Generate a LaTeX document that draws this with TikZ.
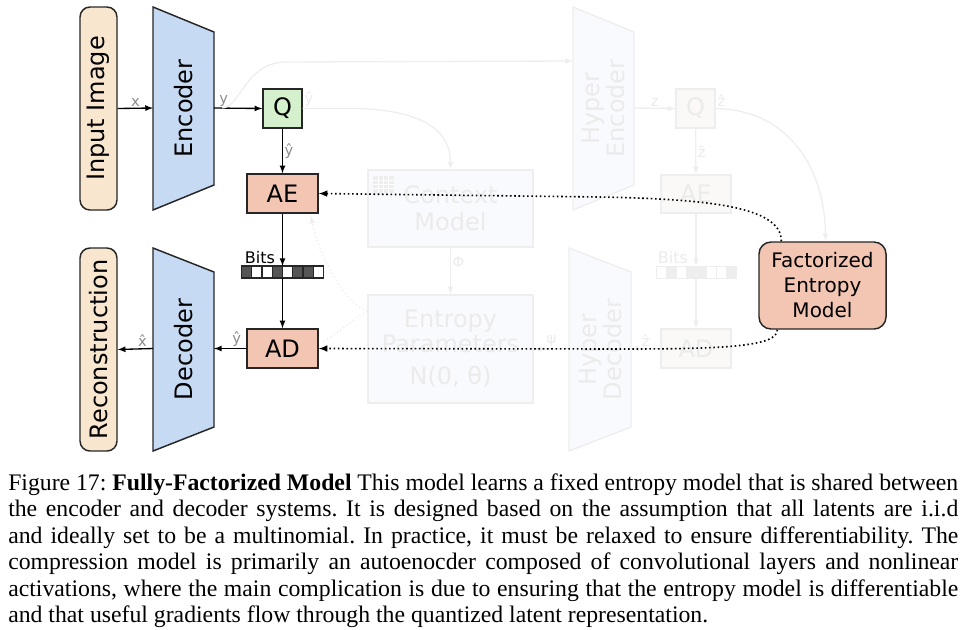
\documentclass[tikz,border=0pt]{standalone}
\usepackage{fontspec}
\setmainfont{DejaVu Sans}
\newfontfamily\capserif{Liberation Serif}
\usepackage{tikz}
\usetikzlibrary{calc,arrows}

\definecolor{beige}{HTML}{F9E6CF}
\definecolor{encblue}{HTML}{C6DAF4}
\definecolor{qgreen}{HTML}{D4F0CD}
\definecolor{salmon}{HTML}{F3C6B4}
\definecolor{bitdark}{HTML}{555555}
\definecolor{fadeline}{HTML}{EEEEEE}
\definecolor{fadefill}{HTML}{F9FAFD}
\definecolor{fadewarm}{HTML}{FBF9F7}
\definecolor{fadetext}{HTML}{EBEBEB}

\begin{document}
\begin{tikzpicture}[x=0.75pt,y=-0.75pt,
	box/.style={draw=black!85,line width=1.1pt,font=\fontsize{18}{22}\selectfont,inner sep=0pt},
	lbl/.style={text=black!45,font=\fontsize{11}{13}\selectfont,inner sep=1pt},
	flow/.style={-latex,line width=1pt},
	dotflow/.style={-latex,dotted,line width=1.2pt},
	fade/.style={draw=fadeline,fill=fadefill,line width=1pt,text=fadetext,font=\fontsize{18}{22}\selectfont,inner sep=0pt},
	fadeflow/.style={-latex,draw=fadeline,line width=1pt},
	fadelbl/.style={text=fadetext,font=\fontsize{11}{13}\selectfont,inner sep=1pt}]
	\useasboundingbox (0,0) rectangle (969,629);
	
	%encoder side
	\node[box,fill=beige,rounded corners=7.5pt,rotate=90,minimum width=152.25pt,minimum height=27.75pt] (inimg) at (98.5,108.5) {Input Image};
	\draw[box,fill=encblue] (153,7) -- (214,32) -- (214,185) -- (153,210) -- cycle;
	\node[rotate=90,font=\fontsize{18}{22}\selectfont] (enc) at (183.5,108.5) {Encoder};
	\coordinate (enc-w) at (153,108);
	\coordinate (enc-e) at (214,108);
	\node[box,fill=qgreen,minimum size=29.25pt] (q) at (282.5,108.5) {Q};
	\node[box,fill=salmon,minimum width=53.25pt,minimum height=29.25pt] (ae) at (282.5,193.5) {AE};
	
	\draw[flow] (inimg.south) -- (enc-w) node[lbl,midway,above] {x};
	\draw[flow] (enc-e) -- (q.west) node[lbl,pos=0.2,above] {y};
	\draw[flow] (q) -- (ae) node[lbl,midway,right] {ŷ};
	
	%bits
	\foreach \c [count=\i from 0] in {bitdark,white,white,bitdark,white,bitdark,bitdark,white}
		\draw[fill=\c,draw=black!85,line width=0.8pt] ({241.5+\i*10.25},266) rectangle +(10.25,12);
	\coordinate (bits-n) at (282.5,266);
	\coordinate (bits-s) at (282.5,278);
	\node[font=\fontsize{12}{14}\selectfont,anchor=base] (bits) at (260,263) {Bits};
	\draw[flow] (ae) -- (bits-n);
	
	%decoder side
	\node[box,fill=salmon,minimum width=53.25pt,minimum height=29.25pt] (ad) at (282.5,348.5) {AD};
	\draw[box,fill=encblue] (153,248) -- (214,272) -- (214,427) -- (153,451) -- cycle;
	\node[rotate=90,font=\fontsize{18}{22}\selectfont] (dec) at (183.5,349.5) {Decoder};
	\coordinate (dec-w) at (153,348.5);
	\coordinate (dec-e) at (214,348.5);
	\node[box,fill=beige,rounded corners=7.5pt,rotate=90,minimum width=152.25pt,minimum height=27.75pt] (recon) at (98.5,349.5) {Reconstruction};
	
	\draw[flow] (bits-s) -- (ad);
	\draw[flow] (ad.west) -- (dec-e) node[lbl,pos=0.3,above] {ŷ};
	\draw[flow] (dec-w) -- (recon.south) node[lbl,pos=0.3,above] {\^{x}};
	
	%entropy model
	\node[box,fill=salmon,rounded corners=9pt,minimum width=95.25pt,minimum height=65.25pt,align=center,font=\fontsize{15}{18.75}\selectfont] (fem) at (822.5,285.5) {Factorized\\Entropy\\Model};
	
	%faded hyperprior part
	\draw[fade] (573,7) -- (634,32) -- (634,185) -- (573,210) -- cycle;
	\node[rotate=90,text=fadetext,align=center,font=\fontsize{18}{18.75}\selectfont] (hypenc) at (603.5,108.5) {Hyper\\Encoder};
	\coordinate (hypenc-w) at (573,61);
	\coordinate (hypenc-e) at (634,108);
	\draw[fade] (569,248) -- (631,272) -- (631,427) -- (569,451) -- cycle;
	\node[rotate=90,text=fadetext,align=center,font=\fontsize{18}{18.75}\selectfont] (hypdec) at (600,349.5) {Hyper\\Decoder};
	\coordinate (hypdec-w) at (569,348.5);
	\coordinate (hypdec-e) at (631,348.5);
	
	\node[fade,minimum width=123.75pt,minimum height=57.75pt,align=center,font=\fontsize{18}{20}\selectfont] (cm) at (450.5,208.5) {Context\\Model};
	\fill[fadeline] (373,176) rectangle (394,193);
	\foreach \k in {1,2,3}{
		\draw[white,line width=0.6pt] ({373+\k*5.25},176) -- +(0,17);
		\draw[white,line width=0.6pt] (373,{176+\k*4.25}) -- +(21,0);
	}
	\node[fade,minimum width=123.75pt,minimum height=81pt,align=center,font=\fontsize{18}{18.75}\selectfont] (ep) at (450.5,349) {Entropy\\Parameters\\[5pt]N(0, θ)};
	
	\node[fade,fill=fadewarm,minimum size=29.25pt] (q2) at (695.5,108.5) {Q};
	\node[fade,fill=fadewarm,minimum width=52.5pt,minimum height=28.5pt] (ae2) at (696,194) {AE};
	\node[fade,fill=fadewarm,minimum width=52.5pt,minimum height=29.25pt] (ad2) at (696,348.5) {AD};
	\foreach \c [count=\i from 0] in {white,fadeline,white,fadeline,fadeline,white,white,fadeline}
		\draw[fill=\c,draw=fadeline,line width=0.6pt] ({656+\i*10},266) rectangle +(10,12);
	\coordinate (bits2-n) at (696,266);
	\coordinate (bits2-s) at (696,278);
	\node[text=fadetext,font=\fontsize{12}{14}\selectfont,anchor=base] (bits2) at (673,263) {Bits};
	
	\draw[fadeflow] ($(enc-e)+(8,0)$) .. controls (240,108) and (245,63) .. (285,62) -- (hypenc-w);
	\draw[fadeflow] (q.east) node[fadelbl,above right] {ŷ} -- (355,108.5) .. controls (430,110) and (450.5,135) .. (cm.north);
	\draw[fadeflow] (cm) -- (ep) node[fadelbl,pos=0.3,right] {Φ};
	\draw[fadeflow] (hypenc-e) -- (q2.west) node[fadelbl,midway,above] {z};
	\draw[fadeflow] (q2) -- (ae2) node[fadelbl,midway,right] {ẑ};
	\draw[fadeflow] (ae2) -- (bits2-n);
	\draw[fadeflow] (bits2-s) -- (ad2);
	\draw[fadeflow] (ad2.west) -- (hypdec-e) node[fadelbl,midway,above] {ẑ};
	\draw[fadeflow] (hypdec-w) -- (ep.east) node[fadelbl,midway,above] {ψ};
	\draw[fadeflow] (q2.east) node[fadelbl,above right] {ẑ} .. controls (790,110) and (825,170) .. ($(fem.north)+(3,0)$);
	\draw[fadeflow,dotted] ($(ep.north west)+(0,17)$) .. controls (340,300) and (318,250) .. ($(ae.south east)+(-8,2)$);
	\draw[fadeline,dotted,line width=1pt] ($(ep.north west)+(0,17)$) .. controls (350,320) and (338,335) .. ($(ad.east)+(2,-6)$);
	
	%entropy model links
	\draw[dotflow] ($(fem.north west)+(23,0)$) .. controls (782,205) and (700,199) .. (600,197) -- (ae.east);
	\draw[dotflow] ($(fem.south west)+(19,0)$) .. controls (778,347) and (720,349) .. (620,349) -- (ad.east);
	
	%caption
	\node[anchor=north west,inner sep=0pt,text width=712.5pt,align=justify,font=\capserif\fontsize{17.8}{19.8}\selectfont] (caption) at (8,473.5) {\noindent\frenchspacing Figure 17: \textbf{Fully-Factorized Model} This model learns a fixed entropy model that is shared between\linebreak the encoder and decoder systems.  It is designed based on the assumption that all latents are i.i.d\linebreak and ideally set to be a multinomial. In practice, it must be relaxed to ensure differentiability. The\linebreak compression model is primarily an autoenocder composed of convolutional layers and nonlinear\linebreak activations, where the main complication is due to ensuring that the entropy model is differentiable\linebreak and that useful gradients flow through the quantized latent representation.};
\end{tikzpicture}
\end{document}
